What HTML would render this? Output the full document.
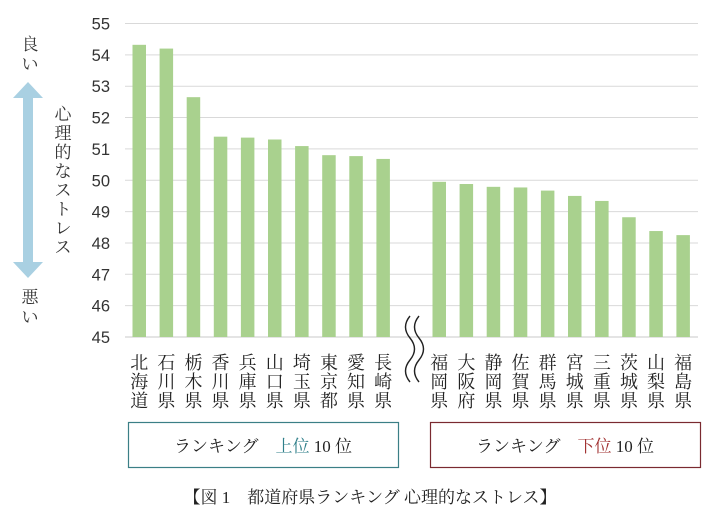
<!DOCTYPE html>
<html><head><meta charset="utf-8"><style>
body{margin:0;background:#fff;}
svg text{font-family:"Liberation Serif","Noto Serif CJK SC","Noto Sans CJK JP",serif;}
</style></head><body>
<svg id="chart" width="720" height="522" viewBox="0 0 720 522" xmlns="http://www.w3.org/2000/svg">
<g id="grid"></g>
<g id="bars"></g>
<g id="labels"></g>
<g id="yticks"></g>
<g fill="none" stroke="#222" stroke-width="1.4">
<path d="M410 316 q-9 11 0 22 q9 11 0 22 q-9 11 0 22"/>
<path d="M419 316 q-9 11 0 22 q9 11 0 22 q-9 11 0 22"/>
</g>
<g>
<text x="30" y="50" font-size="17" text-anchor="middle" fill="#333">良</text>
<text x="30" y="70" font-size="17" text-anchor="middle" fill="#333">い</text>
<path d="M28 82 L43 98 L33 98 L33 262 L43 262 L28 278 L13 262 L23 262 L23 98 L13 98 Z" fill="#a9d0e2"/>
<g font-size="17" fill="#333" text-anchor="middle">
<text x="63" y="120">心</text><text x="63" y="139">理</text><text x="63" y="158">的</text><text x="63" y="177">な</text><text x="63" y="196">ス</text><text x="63" y="215">ト</text><text x="63" y="234">レ</text><text x="63" y="253">ス</text>
</g>
<text x="30" y="303" font-size="17" text-anchor="middle" fill="#333">悪</text>
<text x="30" y="323" font-size="17" text-anchor="middle" fill="#333">い</text>
</g>
<rect x="128.5" y="422.5" width="270" height="45" fill="none" stroke="#3b7f86" stroke-width="1.2"/>
<text x="263" y="452" font-size="17" text-anchor="middle" fill="#222">ランキング　<tspan fill="#2f7f8a">上位</tspan> 10 位</text>
<rect x="430.5" y="422.5" width="270" height="45" fill="none" stroke="#7a2a30" stroke-width="1.2"/>
<text x="565" y="452" font-size="17" text-anchor="middle" fill="#222">ランキング　<tspan fill="#a03030">下位</tspan> 10 位</text>
<text x="370" y="503" font-size="17" text-anchor="middle" fill="#222">【図 1　都道府県ランキング 心理的なストレス】</text>
</svg>
<script>
const categoriesTop=["北海道","石川県","栃木県","香川県","兵庫県","山口県","埼玉県","東京都","愛知県","長崎県"];
const valuesTop=[54.32,54.2,52.65,51.39,51.36,51.3,51.09,50.8,50.77,50.68];
const categoriesBottom=["福岡県","大阪府","静岡県","佐賀県","群馬県","宮城県","三重県","茨城県","山梨県","福島県"];
const valuesBottom=[49.95,49.88,49.79,49.77,49.67,49.5,49.34,48.82,48.38,48.25];
const yTicks=[45,46,47,48,49,50,51,52,53,54,55];
const NS="http://www.w3.org/2000/svg";
const Y0=337,Y1=23.5,VMIN=45,VMAX=55;
function y(v){return Y0-(v-VMIN)/(VMAX-VMIN)*(Y0-Y1);}
function xTop(i){return 132.5+i*27.1;}
function xBot(i){return 432.5+i*27.1;}
const BW=13.5;
const grid=document.getElementById('grid'),bars=document.getElementById('bars'),labels=document.getElementById('labels'),yt=document.getElementById('yticks');
yTicks.forEach(t=>{
 const l=document.createElementNS(NS,'line');
 l.setAttribute('x1',125);l.setAttribute('x2',698);l.setAttribute('y1',y(t));l.setAttribute('y2',y(t));
 l.setAttribute('stroke',t===45?'#c8c8c8':'#d9d9d9');l.setAttribute('stroke-width',1);
 
 
 grid.appendChild(l);
 const tx=document.createElementNS(NS,'text');
 tx.setAttribute('x',110);tx.setAttribute('y',y(t)+6);tx.setAttribute('text-anchor','end');
 tx.setAttribute('font-size','16.5');tx.setAttribute('fill','#333');
 tx.setAttribute('style','font-family:"Liberation Sans",sans-serif');
 tx.textContent=t;
 
 
 yt.appendChild(tx);
});
function draw(cats,vals,xf){
 cats.forEach((c,i)=>{
  const r=document.createElementNS(NS,'rect');
  r.setAttribute('x',xf(i));r.setAttribute('width',BW);
  r.setAttribute('y',y(vals[i]));r.setAttribute('height',Y0-y(vals[i]));
  r.setAttribute('fill','#a9d18e');
  
  
  bars.appendChild(r);
  [...c].forEach((ch,k)=>{
   const t=document.createElementNS(NS,'text');
   t.setAttribute('x',xf(i)+BW/2);t.setAttribute('y',369+k*19);
   t.setAttribute('text-anchor','middle');t.setAttribute('font-size','18');t.setAttribute('fill','#222');
   t.textContent=ch;
   
   
   labels.appendChild(t);
  });
 });
}
draw(categoriesTop,valuesTop,xTop);
draw(categoriesBottom,valuesBottom,xBot);
</script>
</body></html>
